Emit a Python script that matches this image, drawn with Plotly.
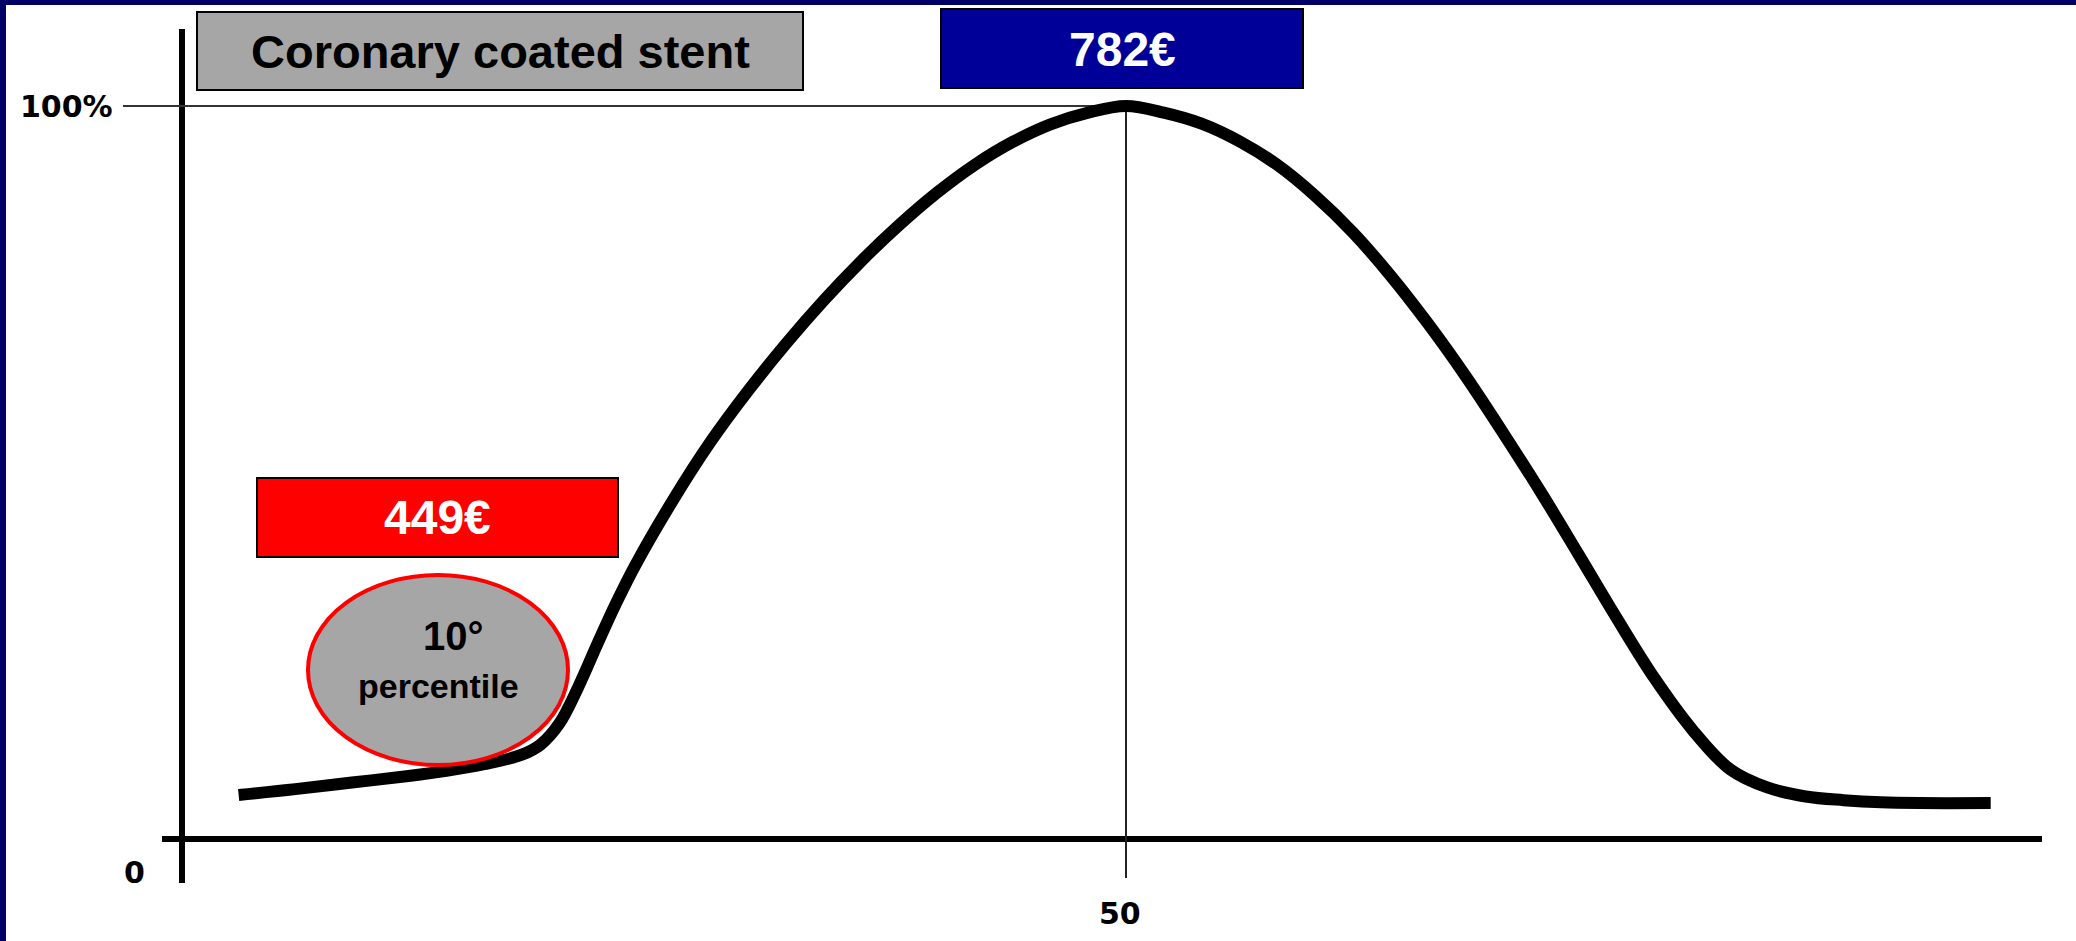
import plotly.graph_objects as go

W, H = 2076, 941

# curve (x: position 0..100, y: % of max)
pos = [3, 6, 9, 12, 14, 16, 18, 19, 20, 21, 22, 23, 24, 26, 28, 30, 32, 34,
       36, 38, 40, 42, 44, 46, 48, 50, 52, 54, 56, 58, 60, 62, 64, 66, 68,
       70, 72, 74, 76, 78, 80, 82, 84, 86, 88, 90, 92, 95.8]
share = [6.0, 6.8, 7.7, 8.6, 9.3, 10.2, 11.5, 12.9, 15.8, 20.8, 26.6, 32.2,
         37.3, 46.2, 54.2, 61.2, 67.6, 73.5, 78.9, 83.8, 88.2, 92.0, 95.1,
         97.5, 99.1, 100.0, 99.1, 97.6, 95.2, 92.0, 87.8, 82.8, 76.9, 70.3,
         63.1, 55.3, 47.2, 38.7, 30.1, 21.9, 14.9, 9.5, 7.0, 5.8, 5.3, 5.0,
         4.9, 4.9]

y_tick_vals = [0, 100]
y_tick_text = ['0', '100%']
x_tick_vals = [50]
x_tick_text = ['50']

title_text = 'Coronary coated stent'
median_price = '782€'
p10_price = '449€'
p10_rank = '10°'
p10_word = 'percentile'


# pixel -> data helpers (axis origin at px 182/839, 50 at px 1126, 100% at px 106)
def dx(px):
    return (px - 182) / 18.88


def dy(py):
    return (839 - py) / 7.33


fig = go.Figure()

fig.add_trace(go.Scatter(
    x=pos, y=share, mode='lines',
    line=dict(color='black', width=12, shape='spline', smoothing=1.0),
    hoverinfo='skip', showlegend=False
))

shapes = []
# axes
shapes.append(dict(type='line', x0=0, x1=0, y0=dy(883), y1=dy(29),
                   line=dict(color='black', width=6), layer='below'))
shapes.append(dict(type='line', x0=dx(162), x1=dx(2042), y0=0, y1=0,
                   line=dict(color='black', width=6), layer='below'))
# guide lines to the peak
shapes.append(dict(type='line', x0=x_tick_vals[0], x1=x_tick_vals[0], y0=dy(878), y1=y_tick_vals[1],
                   line=dict(color='#222222', width=2), layer='below'))
shapes.append(dict(type='line', x0=dx(123), x1=x_tick_vals[0], y0=y_tick_vals[1], y1=y_tick_vals[1],
                   line=dict(color='#333333', width=2), layer='below'))

# boxes
shapes.append(dict(type='rect', x0=dx(197), x1=dx(803), y0=dy(90), y1=dy(12),
                   fillcolor='#A6A6A6', line=dict(color='black', width=2), layer='above'))
shapes.append(dict(type='rect', x0=dx(941), x1=dx(1303), y0=dy(88), y1=dy(9),
                   fillcolor='#000099', line=dict(color='black', width=2), layer='above'))
shapes.append(dict(type='rect', x0=dx(257), x1=dx(618), y0=dy(557), y1=dy(478),
                   fillcolor='#FF0000', line=dict(color='black', width=2), layer='above'))
shapes.append(dict(type='circle', x0=dx(308), x1=dx(568), y0=dy(765), y1=dy(575),
                   fillcolor='#A6A6A6', line=dict(color='#FF0000', width=4), layer='above'))

# navy frame
shapes.append(dict(type='rect', xref='paper', yref='paper', x0=0, x1=6 / W, y0=0, y1=1,
                   fillcolor='#000066', line=dict(width=0), layer='above'))
shapes.append(dict(type='rect', xref='paper', yref='paper', x0=0, x1=1, y0=1 - 5 / H, y1=1,
                   fillcolor='#000066', line=dict(width=0), layer='above'))

tick_font = dict(family='DejaVu Sans', size=30, color='black')
box_font = dict(family='Liberation Sans, Arial', size=48, color='white')
oval_font = dict(family='Liberation Sans, Arial', size=34, color='black')

annotations = [
    dict(x=dx(66), y=y_tick_vals[1], text='<b>' + y_tick_text[1] + '</b>', font=tick_font),
    dict(x=dx(134), y=dy(872), text='<b>' + y_tick_text[0] + '</b>', font=tick_font),
    dict(x=dx(1120), y=dy(913), text='<b>' + x_tick_text[0] + '</b>', font=tick_font),
    dict(x=dx(500), y=dy(51), text='<b>' + title_text + '</b>',
         font=dict(family='Liberation Sans, Arial', size=47, color='black')),
    dict(x=dx(1122), y=dy(49), text='<b>' + median_price + '</b>', font=box_font),
    dict(x=dx(437), y=dy(517), text='<b>' + p10_price + '</b>', font=box_font),
    dict(x=dx(453), y=dy(636), text='<b>' + p10_rank + '</b>',
         font=dict(family='Liberation Sans, Arial', size=40, color='black')),
    dict(x=dx(438), y=dy(686), text='<b>' + p10_word + '</b>', font=oval_font),
]
for a in annotations:
    a.update(xref='x', yref='y', showarrow=False, xanchor='center', yanchor='middle')

fig.update_layout(
    width=W, height=H,
    margin=dict(l=0, r=0, t=0, b=0),
    paper_bgcolor='white', plot_bgcolor='white',
    xaxis=dict(range=[dx(0), dx(W)], visible=False, fixedrange=True),
    yaxis=dict(range=[dy(H), dy(0)], visible=False, fixedrange=True),
    shapes=shapes, annotations=annotations,
    showlegend=False
)

fig.write_html('out.html', config={'displayModeBar': False},
               post_script="document.body.style.margin='0';")
